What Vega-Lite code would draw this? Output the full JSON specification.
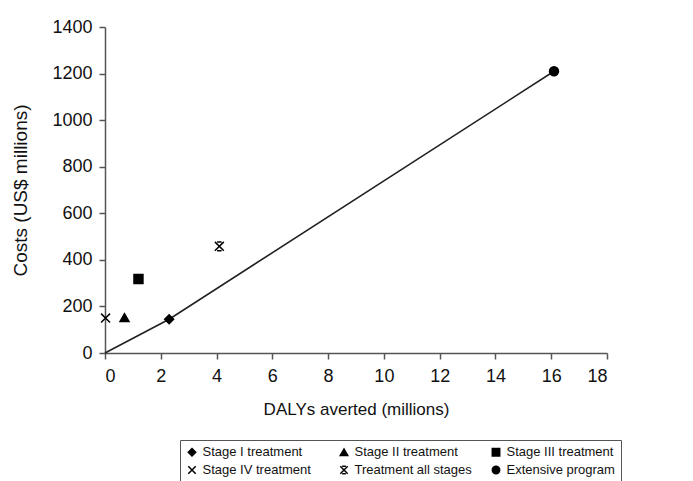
{
  "$schema": "https://vega.github.io/schema/vega-lite/v6.json",
  "width": 502,
  "height": 326,
  "autosize": {"type": "none"},
  "padding": {"left": 105, "top": 27, "right": 86, "bottom": 128},
  "background": "white",
  "config": {
    "view": {"stroke": null},
    "font": "Liberation Sans",
    "axis": {
      "grid": false,
      "domainColor": "#555",
      "domainWidth": 1.5,
      "tickColor": "#555",
      "tickWidth": 1.5,
      "tickSize": 6,
      "labelFont": "Liberation Sans",
      "labelFontSize": 18,
      "labelColor": "#111",
      "titleFont": "Liberation Sans",
      "titleFontWeight": "normal",
      "titleColor": "#111"
    }
  },
  "datasets": {
    "points": [
      {"dalys": 2.3, "cost": 145, "intervention": "Stage I treatment"},
      {"dalys": 0.7, "cost": 152, "intervention": "Stage II treatment"},
      {"dalys": 1.2, "cost": 318, "intervention": "Stage III treatment"},
      {"dalys": 0.02, "cost": 150, "intervention": "Stage IV treatment"},
      {"dalys": 4.1, "cost": 458, "intervention": "Treatment all stages"},
      {"dalys": 16.1, "cost": 1210, "intervention": "Extensive program"}
    ],
    "frontier": [
      {"dalys": 0, "cost": 0},
      {"dalys": 2.3, "cost": 145},
      {"dalys": 16.1, "cost": 1210}
    ]
  },
  "layer": [
    {
      "data": {"name": "frontier"},
      "mark": {"type": "line", "color": "#222", "strokeWidth": 1.6},
      "encoding": {
        "x": {"field": "dalys", "type": "quantitative"},
        "y": {"field": "cost", "type": "quantitative"}
      }
    },
    {
      "data": {"name": "points"},
      "mark": {"type": "point", "filled": false, "fill": "black", "fillOpacity": 1, "stroke": "black", "strokeWidth": 1.5, "size": 80, "opacity": 1},
      "encoding": {
        "x": {
          "field": "dalys",
          "type": "quantitative",
          "scale": {"domain": [0, 18], "nice": false},
          "axis": {"values": [0, 2, 4, 6, 8, 10, 12, 14, 16, 18], "title": "DALYs averted (millions)", "titleFontSize": 17, "titlePadding": 16, "labelPadding": 8}
        },
        "y": {
          "field": "cost",
          "type": "quantitative",
          "scale": {"domain": [0, 1400], "nice": false},
          "axis": {"values": [0, 200, 400, 600, 800, 1000, 1200, 1400], "format": "d", "title": "Costs (US$ millions)", "titleFontSize": 19, "titlePadding": 21, "labelPadding": 7}
        },
        "shape": {
          "field": "intervention",
          "type": "nominal",
          "scale": {
            "domain": ["Stage I treatment", "Stage II treatment", "Stage III treatment", "Stage IV treatment", "Treatment all stages", "Extensive program"],
            "range": ["diamond", "triangle-up", "square", "M-1,-1L1,1M-1,1L1,-1", "M-1,-1L1,1M-1,1L1,-1M-0.5,-1L0.5,-1M-0.5,1L0.5,1", "circle"]
          },
          "legend": {
            "orient": "none",
            "legendX": 75,
            "legendY": 413,
            "title": null,
            "direction": "horizontal",
            "columns": 3,
            "gridAlign": "all",
            "columnPadding": 16,
            "rowPadding": 3,
            "padding": 5.5,
            "strokeColor": "#555",
            "labelFont": "Liberation Sans",
            "labelFontSize": 13,
            "labelColor": "#111",
            "labelOffset": 4,
            "symbolSize": 55,
            "symbolOpacity": 1,
            "encode": {
              "symbols": {
                "update": {
                  "fill": {"value": "black"},
                  "fillOpacity": {"value": 1},
                  "stroke": {"value": "black"},
                  "strokeOpacity": {"value": 1},
                  "strokeWidth": {"value": 1.5}
                }
              }
            }
          }
        }
      }
    }
  ]
}
